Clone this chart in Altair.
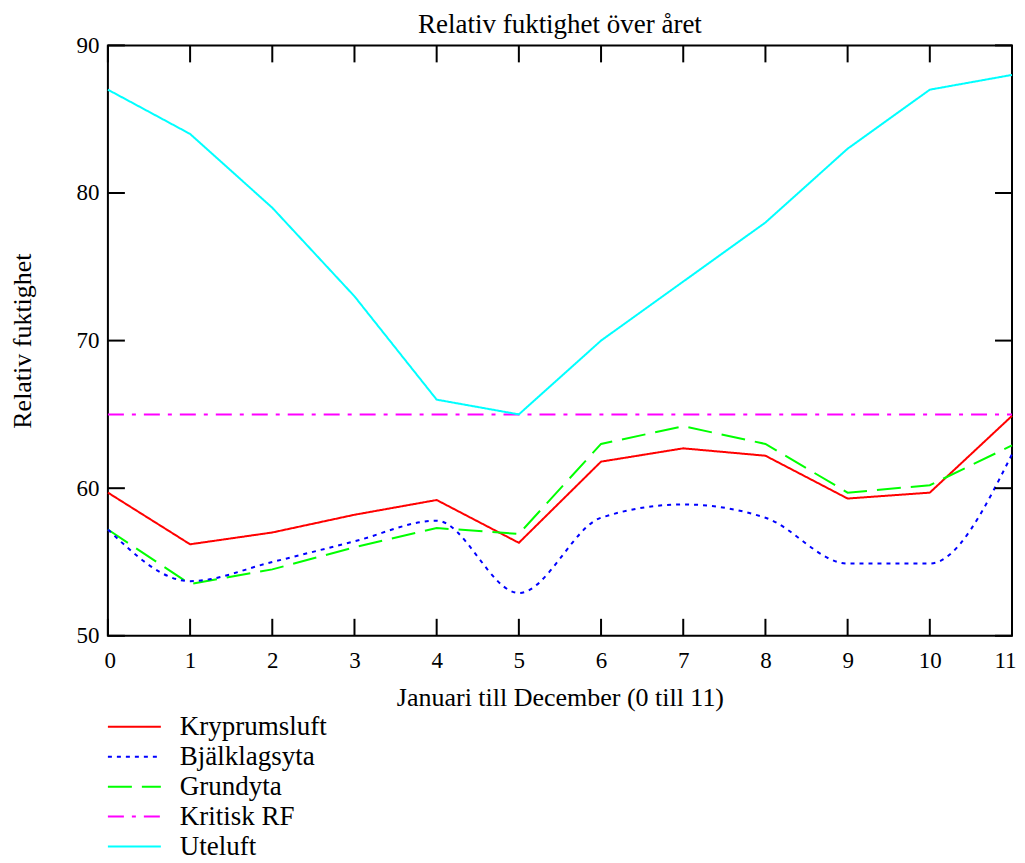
import altair as alt
import pandas as pd

months = list(range(12))
series_names = ["Kryprumsluft", "Bjälklagsyta", "Grundyta", "Kritisk RF", "Uteluft"]
kryprumsluft = [59.7, 56.2, 57.0, 58.2, 59.2, 56.3, 61.8, 62.7, 62.2, 59.3, 59.7, 64.9]
bjalklagsyta = [57.2, 53.7, 55.0, 56.4, 57.8, 52.9, 58.0, 58.9, 58.0, 54.9, 54.9, 62.3]
grundyta = [57.2, 53.5, 54.5, 56.0, 57.3, 56.9, 63.0, 64.2, 63.0, 59.7, 60.2, 62.9]
kritisk_rf = [65] * 12
uteluft = [87, 84, 79, 73, 66, 65, 70, 74, 78, 83, 87, 88]
x_ticks = list(range(12))
y_ticks = [50, 60, 70, 80, 90]

colors = ["#ff0000", "#0000ff", "#00ff00", "#ff00ff", "#00ffff"]
dashes = [[1, 0], [4, 5], [24, 10], [16, 8, 4, 8], [1, 0]]

FONT = "Liberation Serif"
W, H = 905, 591
TL = 17

rows = []
for name, vals in zip(series_names, [kryprumsluft, bjalklagsyta, grundyta, kritisk_rf, uteluft]):
    for m, v in zip(months, vals):
        rows.append({"series": name, "month": m, "value": v})
df = pd.DataFrame(rows)

color_enc = alt.Color("series:N", scale=alt.Scale(domain=series_names, range=colors), legend=None)
dash_enc = alt.StrokeDash("series:N", scale=alt.Scale(domain=series_names, range=dashes), legend=None)

xs = alt.Scale(domain=[0, 11], nice=False, zero=False)
ys = alt.Scale(domain=[50, 90], nice=False, zero=False)

x_enc = alt.X("month:Q", scale=xs,
              axis=alt.Axis(values=x_ticks, format="d", ticks=False, domain=False, grid=False,
                            labelPadding=14, labelFontSize=23, labelFlush=True, labelFlushOffset=4,
                            title="Januari till December (0 till 11)",
                            titleFontSize=26, titlePadding=12))
y_enc = alt.Y("value:Q", scale=ys,
              axis=alt.Axis(values=y_ticks, format="d", ticks=False, domain=False, grid=False,
                            labelPadding=9, labelFontSize=23, title="Relativ fuktighet",
                            titleFontSize=26, titlePadding=40))

base = alt.Chart(df)
lines = base.mark_line(strokeWidth=2).encode(
    x=x_enc, y=y_enc, color=color_enc, strokeDash=dash_enc, detail="series:N"
).transform_filter(alt.datum.series != "Bjälklagsyta")
blue = base.mark_line(strokeWidth=2, interpolate="monotone").encode(
    x="month:Q", y="value:Q", color=color_enc, strokeDash=dash_enc
).transform_filter(alt.datum.series == "Bjälklagsyta")

xt = alt.Chart(pd.DataFrame({"t": x_ticks}))
yt = alt.Chart(pd.DataFrame({"t": y_ticks}))
tick_bottom = xt.mark_rule(color="black", strokeWidth=2).encode(
    x=alt.X("t:Q", scale=xs), y=alt.value(H), y2=alt.value(H - TL))
tick_top = xt.mark_rule(color="black", strokeWidth=2).encode(
    x=alt.X("t:Q", scale=xs), y=alt.value(0), y2=alt.value(TL))
tick_left = yt.mark_rule(color="black", strokeWidth=2).encode(
    y=alt.Y("t:Q", scale=ys), x=alt.value(0), x2=alt.value(TL))
tick_right = yt.mark_rule(color="black", strokeWidth=2).encode(
    y=alt.Y("t:Q", scale=ys), x=alt.value(W), x2=alt.value(W - TL))

main = alt.layer(lines, blue, tick_bottom, tick_top, tick_left, tick_right).properties(
    width=W, height=H,
    title=alt.TitleParams("Relativ fuktighet över året", fontSize=27, font=FONT,
                          fontWeight="normal", offset=-5, anchor="middle", color="black"),
    view=alt.ViewBackground(stroke="black", strokeWidth=2),
)

leg_df = pd.DataFrame({"series": series_names})
leg_y = alt.Y("series:N", sort=series_names, scale=alt.Scale(type="point", padding=0.5), axis=None)
leg_lines = alt.Chart(leg_df).mark_rule(strokeWidth=2).encode(
    y=leg_y, x=alt.value(0), x2=alt.value(53), color=color_enc, strokeDash=dash_enc)
leg_text = alt.Chart(leg_df).mark_text(align="left", baseline="middle", fontSize=27, font=FONT,
                                       color="black").encode(
    y=leg_y, x=alt.value(72), text="series:N")
legend = alt.layer(leg_lines, leg_text).properties(width=300, height=150)

chart = alt.vconcat(main, legend, spacing=0).properties(
    padding={"left": 1, "top": 2, "right": 0, "bottom": 0}
).configure_view(strokeWidth=0).configure_axis(
    labelFont=FONT, titleFont=FONT, labelColor="black", titleColor="black",
    titleFontWeight="normal"
).configure_concat(spacing=0)

chart.save("out.html", embed_options={"renderer": "svg", "actions": False})
